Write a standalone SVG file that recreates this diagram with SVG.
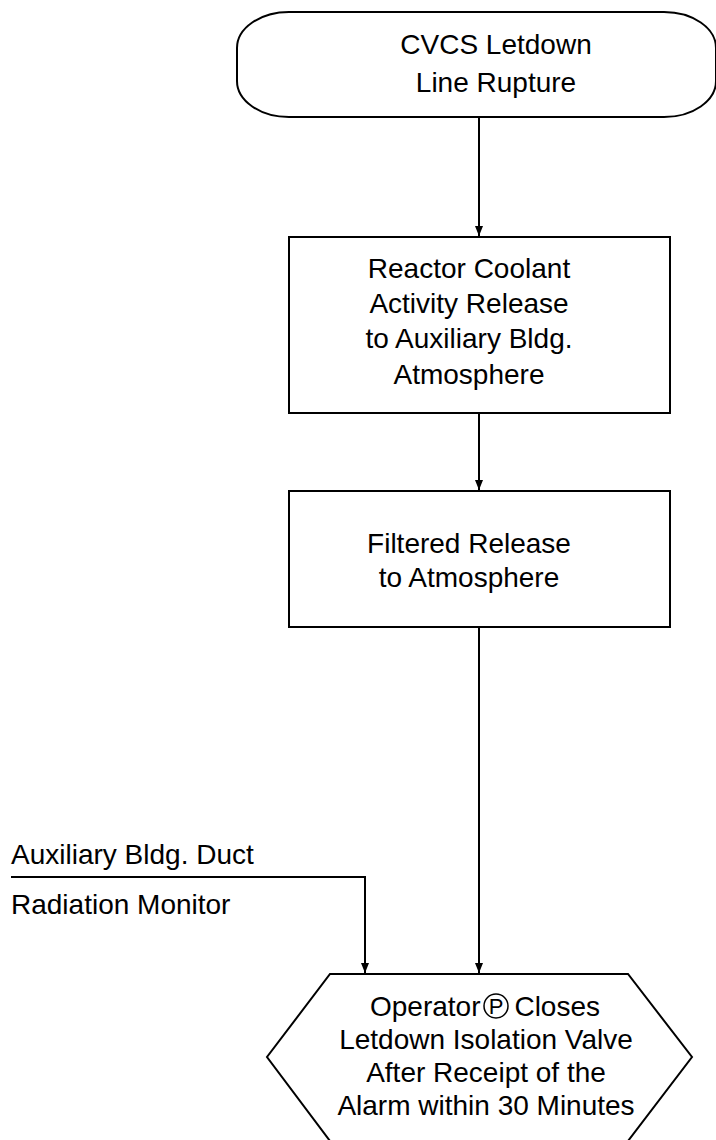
<svg xmlns="http://www.w3.org/2000/svg" width="716" height="1140" viewBox="0 0 716 1140">
<defs>
<style>
.shape{fill:#fff;stroke:#000;stroke-width:2}
.t{font-family:"Liberation Sans",Arial,sans-serif;font-size:28px;fill:#000;text-anchor:middle}
.l{font-family:"Liberation Sans",Arial,sans-serif;font-size:28px;fill:#000}
.conn{fill:none;stroke:#000;stroke-width:2}
</style>
<marker id="arr" viewBox="0 0 10 8" refX="10" refY="4" markerWidth="5" markerHeight="4" markerUnits="strokeWidth" orient="auto">
<path d="M0,0 L10,4 L0,8 Z" fill="#000"/>
</marker>
</defs>
<rect width="716" height="1140" fill="#fff"/>
<g id="connectors">
<path class="conn" d="M479,117 V236" marker-end="url(#arr)"/>
<path class="conn" d="M479,413 V490" marker-end="url(#arr)"/>
<path class="conn" d="M479,627 V973" marker-end="url(#arr)"/>
<path class="conn" d="M11,877 H365 V973" marker-end="url(#arr)"/>
</g>
<g id="n1">
<rect class="shape" x="237" y="12" width="479" height="105" rx="52" ry="36"/>
<text class="t" x="496" y="54">CVCS Letdown</text>
<text class="t" x="496" y="92">Line Rupture</text>
</g>
<g id="n2">
<rect class="shape" x="289" y="237" width="381" height="176"/>
<text class="t" x="469" y="278">Reactor Coolant</text>
<text class="t" x="469" y="313">Activity Release</text>
<text class="t" x="469" y="348">to Auxiliary Bldg.</text>
<text class="t" x="469" y="384">Atmosphere</text>
</g>
<g id="n3">
<rect class="shape" x="289" y="491" width="381" height="136"/>
<text class="t" x="469" y="553">Filtered Release</text>
<text class="t" x="469" y="587">to Atmosphere</text>
</g>
<g id="label">
<text class="l" x="11" y="864">Auxiliary Bldg. Duct</text>
<text class="l" x="11" y="914">Radiation Monitor</text>
</g>
<g id="n4">
<polygon class="shape" points="330,974 628,974 692,1057 628,1141 330,1141 267,1057"/>
<text class="t" x="370" y="1016" style="text-anchor:start">Operator</text>
<circle cx="496" cy="1006" r="12" fill="none" stroke="#000" stroke-width="1.5"/>
<text class="t" x="496" y="1014" style="font-size:22px">P</text>
<text class="t" x="600" y="1016" style="text-anchor:end">Closes</text>
<text class="t" x="486" y="1049">Letdown Isolation Valve</text>
<text class="t" x="486" y="1082">After Receipt of the</text>
<text class="t" x="486" y="1115">Alarm within 30 Minutes</text>
</g>
</svg>
